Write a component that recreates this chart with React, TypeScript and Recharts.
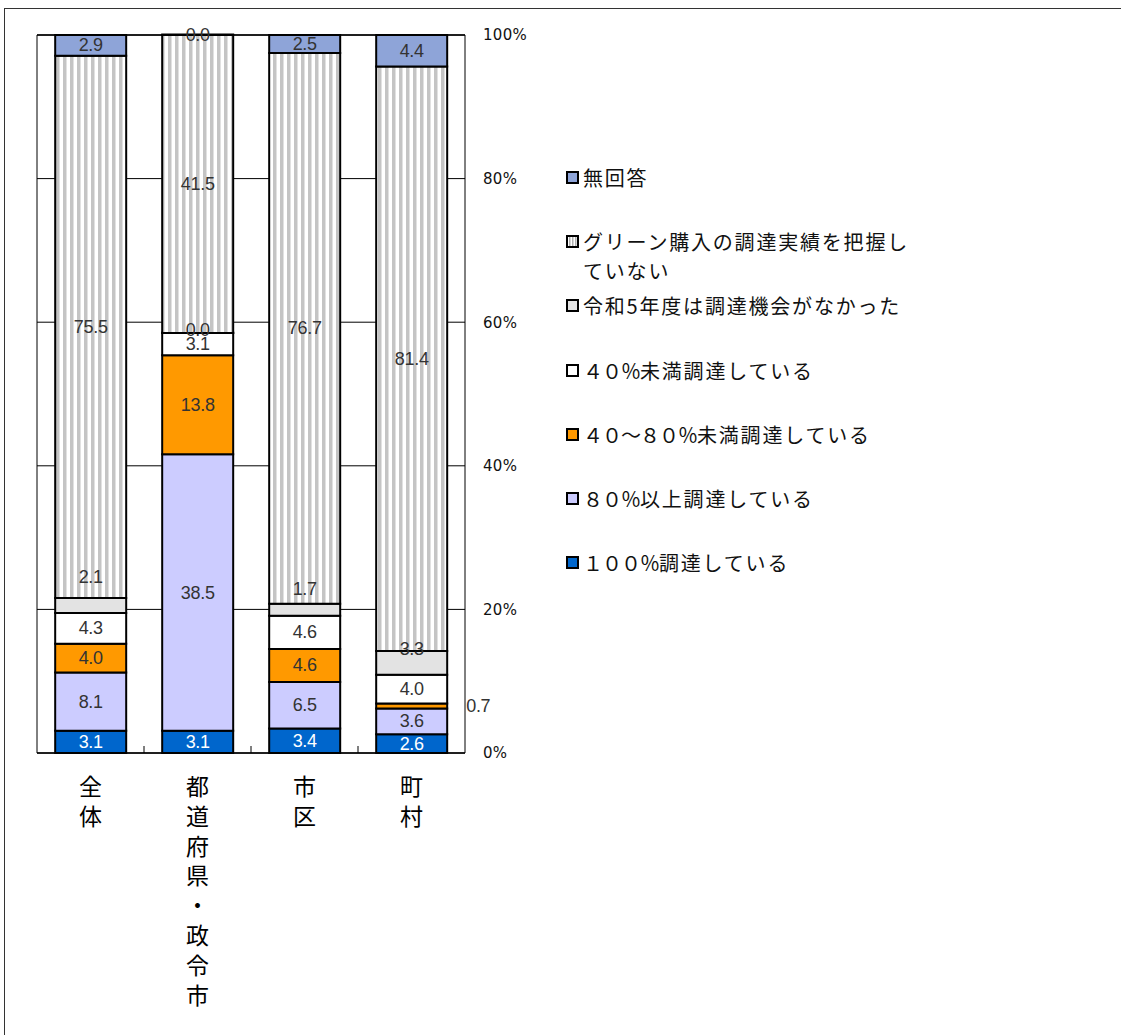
import { BarChart, Bar, XAxis, YAxis, CartesianGrid, LabelList, ReferenceArea } from 'recharts';

const categories = ['全体', '都道府県・政令市', '市区', '町村'];

// stacked from the bottom up
const full100 = [3.1, 3.1, 3.4, 2.6];
const over80 = [8.1, 38.5, 6.5, 3.6];
const from40to80 = [4.0, 13.8, 4.6, 0.7];
const under40 = [4.3, 3.1, 4.6, 4.0];
const noChance = [2.1, 0.0, 1.7, 3.3];
const notTracked = [75.5, 41.5, 76.7, 81.4];
const noAnswer = [2.9, 0.0, 2.5, 4.4];

const yTicks = [0, 20, 40, 60, 80, 100];

const series = [
  { key: 'full100', name: '１００％調達している', values: full100, fill: '#0066CC', text: '#ffffff' },
  { key: 'over80', name: '８０％以上調達している', values: over80, fill: '#CCCCFF', text: '#333333' },
  { key: 'from40to80', name: '４０～８０％未満調達している', values: from40to80, fill: '#FF9900', text: '#333333' },
  { key: 'under40', name: '４０％未満調達している', values: under40, fill: '#FFFFFF', text: '#333333' },
  { key: 'noChance', name: '令和5年度は調達機会がなかった', values: noChance, fill: '#E3E3E3', text: '#333333' },
  { key: 'notTracked', name: 'グリーン購入の調達実績を把握していない', values: notTracked, fill: 'url(#stripes)', text: '#333333' },
  { key: 'noAnswer', name: '無回答', values: noAnswer, fill: '#8EA4D8', text: '#333333' },
];

const data = categories.map((name, i) => {
  const row: Record<string, string | number> = { name };
  series.forEach((s) => {
    row[s.key] = s.values[i];
  });
  return row;
});

const labelFont = { fontFamily: '"Liberation Sans", Arial, sans-serif', fontSize: 18, letterSpacing: -0.3 };
const jpFont = '"Noto Sans CJK JP", sans-serif';

// the 令和5年度 labels sit above their thin segments in the original
const noChanceLift = [-21, -2, -15, -2];

const makeLabel = (key: string, color: string) => (p: any) => {
  const { x, y, width, height, value, index } = p;
  let tx = x + width / 2;
  let ty = y + height / 2;
  let anchor: 'middle' | 'start' = 'middle';
  if (key === 'noChance') ty = y + noChanceLift[index];
  if (key === 'from40to80' && index === 3) {
    tx = x + width + 19;
    anchor = 'start';
  }
  return (
    <text x={tx} y={ty} textAnchor={anchor} dominantBaseline="central" fill={color} style={labelFont}>
      {Number(value).toFixed(1)}
    </text>
  );
};

const CategoryTick = (p: any) => {
  const chars = Array.from(String(p.payload.value));
  const half = p.payload.offset || p.width / p.visibleTicksCount / 2;
  const last = p.index === p.visibleTicksCount - 1;
  return (
    <g>
      {!last && <line x1={p.x + half} x2={p.x + half} y1={p.y - 7} y2={p.y} stroke="#000" strokeWidth={1} />}
      {chars.map((c, i) => (
        <text key={i} x={p.x} y={p.y + 42 + i * 29.8} textAnchor="middle" fill="#000" style={{ fontFamily: jpFont, fontSize: 23 }}>
          {c}
        </text>
      ))}
    </g>
  );
};

const Marker = ({ fill }: { fill: string }) => (
  <svg width={13} height={13} style={{ display: 'block', flex: 'none' }}>
    <defs>
      <pattern id="legendStripes" width="3" height="6" patternUnits="userSpaceOnUse">
        <rect width="3" height="6" fill="#fff" />
        <rect width="1.5" height="6" fill="#b0b0b0" />
      </pattern>
    </defs>
    <rect x={1} y={1} width={11} height={11} fill={fill === 'url(#stripes)' ? 'url(#legendStripes)' : fill} stroke="#000" strokeWidth={2} />
  </svg>
);

// full-width digits are set a little tighter than the kana/kanji
const LegendText = ({ text }: { text: string }) => (
  <span>
    {text.split(/([０-９％～]+)/).map((part, i) =>
      /[０-９％～]/.test(part) ? (
        <span key={i} style={{ letterSpacing: -1 }}>
          {part}
        </span>
      ) : (
        <span key={i}>{part}</span>
      )
    )}
  </span>
);

const legendRows = [...series].reverse();

export default function App() {
  return (
    <div style={{ position: 'absolute', left: 0, top: 0, width: 1121, height: 1035, overflow: 'hidden', background: '#fff' }}>
      <div
        style={{
          position: 'absolute',
          left: 4,
          top: 8,
          width: 1200,
          height: 1100,
          borderLeft: '1px solid #333',
          borderTop: '1px solid #333',
        }}
      />
      <div style={{ position: 'absolute', left: 0, top: 0 }}>
        <BarChart
          width={1121}
          height={1035}
          data={data}
          margin={{ top: 35, left: 37, right: 596, bottom: 252 }}
          barCategoryGap="17%"
        >
          <defs>
            <pattern id="stripes" width="7" height="10" patternUnits="userSpaceOnUse">
              <rect width="7" height="10" fill="#ffffff" />
              <rect width="3.5" height="10" fill="#c4c4c4" />
            </pattern>
          </defs>
          <CartesianGrid horizontal vertical={false} stroke="#000" strokeWidth={1} />
          <ReferenceArea y1={0} y2={100} fill="none" stroke="#000" strokeWidth={1} />
          <XAxis
            dataKey="name"
            height={30}
            axisLine={{ stroke: '#000' }}
            tickLine={false}
            tickSize={0}
            tickMargin={0}
            tick={<CategoryTick />}
            interval={0}
          />
          <YAxis
            orientation="right"
            width={60}
            domain={[0, 100]}
            ticks={yTicks}
            axisLine={false}
            tickLine={false}
            tickSize={0}
            tickMargin={18}
            tickFormatter={(v) => `${v}%`}
            tick={{ fill: '#111', fontSize: 15, fontFamily: '"DejaVu Sans", sans-serif', letterSpacing: 0.3 }}
          />
          {series.map((s) => (
            <Bar
              key={s.key}
              dataKey={s.key}
              name={s.name}
              stackId="a"
              fill={s.fill}
              stroke="#000"
              strokeWidth={2}
              minPointSize={0.5}
              isAnimationActive={false}
            >
              <LabelList dataKey={s.key} content={makeLabel(s.key, s.text)} />
            </Bar>
          ))}
        </BarChart>
      </div>
      <div style={{ position: 'absolute', left: 566, top: 0, fontFamily: jpFont, fontSize: 20, letterSpacing: 1.8, color: '#111' }}>
        {legendRows.map((s, i) => {
          const top = 178 + i * 64.2;
          const twoLines = s.key === 'notTracked';
          return (
            <div key={s.key} style={{ position: 'absolute', left: 0, top: top - 15, whiteSpace: 'nowrap', lineHeight: '29px' }}>
              <div style={{ display: 'flex', alignItems: 'center', gap: 4 }}>
                <Marker fill={s.fill} />
                <LegendText text={twoLines ? 'グリーン購入の調達実績を把握し' : s.name} />
              </div>
              {twoLines && <div style={{ paddingLeft: 17 }}>ていない</div>}
            </div>
          );
        })}
      </div>
    </div>
  );
}
